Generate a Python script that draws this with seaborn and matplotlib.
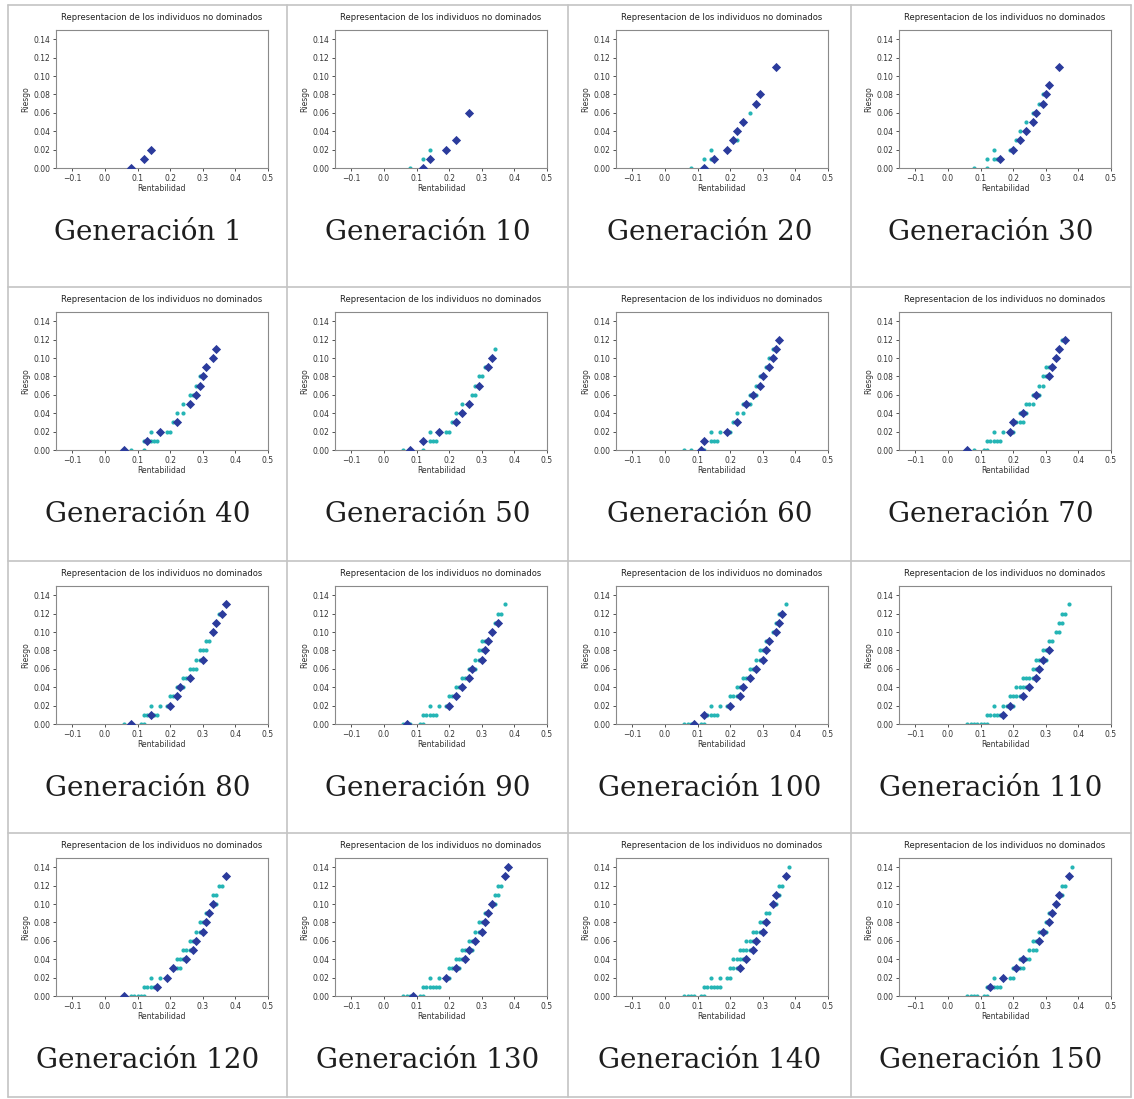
import matplotlib
matplotlib.use("Agg")
import matplotlib.pyplot as plt
import seaborn as sns
from matplotlib.lines import Line2D

# ---------------------------------------------
# Datos: frente no dominado (diamantes) y resto (puntos) por generacion
# pares (rentabilidad, riesgo)
# ---------------------------------------------
generations = [1, 10, 20, 30, 40, 50, 60, 70, 80, 90, 100, 110, 120, 130, 140, 150]

g1_front = [(0.08, 0.00), (0.12, 0.01), (0.14, 0.02)]
g1_rest = []

g10_front = [(0.12, 0.00), (0.14, 0.01), (0.19, 0.02), (0.22, 0.03), (0.26, 0.06)]
g10_rest = [(0.08, 0.00), (0.12, 0.01), (0.14, 0.02)]

g20_front = [(0.12, 0.00), (0.15, 0.01), (0.19, 0.02), (0.21, 0.03), (0.22, 0.04),
             (0.24, 0.05), (0.28, 0.07), (0.29, 0.08), (0.34, 0.11)]
g20_rest = [(0.08, 0.00), (0.12, 0.01), (0.14, 0.01), (0.14, 0.02), (0.22, 0.03), (0.26, 0.06)]

g30_front = [(0.16, 0.01), (0.20, 0.02), (0.22, 0.03), (0.24, 0.04), (0.26, 0.05),
             (0.27, 0.06), (0.29, 0.07), (0.30, 0.08), (0.31, 0.09), (0.34, 0.11)]
g30_rest = [(0.08, 0.00), (0.12, 0.00), (0.12, 0.01), (0.14, 0.01), (0.15, 0.01), (0.14, 0.02),
            (0.19, 0.02), (0.21, 0.03), (0.22, 0.04), (0.24, 0.05), (0.26, 0.06), (0.28, 0.07),
            (0.29, 0.08)]

g40_front = [(0.06, 0.00), (0.13, 0.01), (0.17, 0.02), (0.22, 0.03), (0.26, 0.05), (0.28, 0.06),
             (0.29, 0.07), (0.30, 0.08), (0.31, 0.09), (0.33, 0.10), (0.34, 0.11)]
g40_rest = [(0.08, 0.00), (0.12, 0.00), (0.12, 0.01), (0.14, 0.01), (0.15, 0.01), (0.16, 0.01),
            (0.14, 0.02), (0.19, 0.02), (0.20, 0.02), (0.21, 0.03), (0.22, 0.04), (0.24, 0.04),
            (0.24, 0.05), (0.26, 0.06), (0.27, 0.06), (0.28, 0.07), (0.29, 0.08)]

g50_front = [(0.08, 0.00), (0.12, 0.01), (0.17, 0.02), (0.22, 0.03), (0.24, 0.04), (0.26, 0.05),
             (0.29, 0.07), (0.32, 0.09), (0.33, 0.10)]
g50_rest = [(0.06, 0.00), (0.12, 0.00), (0.14, 0.01), (0.15, 0.01), (0.16, 0.01), (0.14, 0.02),
            (0.19, 0.02), (0.20, 0.02), (0.21, 0.03), (0.22, 0.04), (0.24, 0.05), (0.27, 0.06),
            (0.28, 0.06), (0.28, 0.07), (0.29, 0.08), (0.30, 0.08), (0.31, 0.09), (0.34, 0.11)]

g60_front = [(0.11, 0.00), (0.12, 0.01), (0.19, 0.02), (0.22, 0.03), (0.25, 0.05), (0.27, 0.06),
             (0.29, 0.07), (0.30, 0.08), (0.32, 0.09), (0.33, 0.10), (0.34, 0.11), (0.35, 0.12)]
g60_rest = [(0.06, 0.00), (0.08, 0.00), (0.12, 0.00), (0.14, 0.01), (0.15, 0.01), (0.16, 0.01),
            (0.14, 0.02), (0.17, 0.02), (0.20, 0.02), (0.21, 0.03), (0.22, 0.04), (0.24, 0.04),
            (0.24, 0.05), (0.26, 0.05), (0.26, 0.06), (0.28, 0.06), (0.28, 0.07), (0.29, 0.08),
            (0.31, 0.09), (0.32, 0.10), (0.33, 0.11)]

g70_front = [(0.06, 0.00), (0.19, 0.02), (0.20, 0.03), (0.23, 0.04), (0.27, 0.06), (0.31, 0.08),
             (0.32, 0.09), (0.33, 0.10), (0.34, 0.11), (0.36, 0.12)]
g70_rest = [(0.08, 0.00), (0.11, 0.00), (0.12, 0.00), (0.12, 0.01), (0.13, 0.01), (0.14, 0.01),
            (0.15, 0.01), (0.16, 0.01), (0.14, 0.02), (0.17, 0.02), (0.20, 0.02), (0.21, 0.03),
            (0.22, 0.03), (0.23, 0.03), (0.22, 0.04), (0.24, 0.04), (0.24, 0.05), (0.25, 0.05),
            (0.26, 0.05), (0.26, 0.06), (0.28, 0.06), (0.28, 0.07), (0.29, 0.07), (0.29, 0.08),
            (0.30, 0.08), (0.30, 0.09), (0.31, 0.09), (0.35, 0.12)]

g80_front = [(0.08, 0.00), (0.14, 0.01), (0.20, 0.02), (0.22, 0.03), (0.23, 0.04), (0.26, 0.05),
             (0.30, 0.07), (0.33, 0.10), (0.34, 0.11), (0.36, 0.12), (0.37, 0.13)]
g80_rest = [(0.06, 0.00), (0.11, 0.00), (0.12, 0.00), (0.12, 0.01), (0.13, 0.01), (0.15, 0.01),
            (0.16, 0.01), (0.14, 0.02), (0.17, 0.02), (0.19, 0.02), (0.20, 0.03), (0.21, 0.03),
            (0.22, 0.04), (0.24, 0.04), (0.24, 0.05), (0.25, 0.05), (0.26, 0.06), (0.27, 0.06),
            (0.28, 0.06), (0.28, 0.07), (0.29, 0.07), (0.29, 0.08), (0.30, 0.08), (0.31, 0.08),
            (0.31, 0.09), (0.32, 0.09), (0.35, 0.12)]

g90_front = [(0.07, 0.00), (0.20, 0.02), (0.22, 0.03), (0.24, 0.04), (0.26, 0.05), (0.27, 0.06),
             (0.30, 0.07), (0.31, 0.08), (0.32, 0.09), (0.33, 0.10), (0.35, 0.11)]
g90_rest = [(0.06, 0.00), (0.08, 0.00), (0.11, 0.00), (0.12, 0.00), (0.12, 0.01), (0.13, 0.01),
            (0.14, 0.01), (0.15, 0.01), (0.16, 0.01), (0.14, 0.02), (0.17, 0.02), (0.19, 0.02),
            (0.20, 0.03), (0.21, 0.03), (0.22, 0.04), (0.23, 0.04), (0.24, 0.05), (0.25, 0.05),
            (0.26, 0.06), (0.28, 0.06), (0.28, 0.07), (0.29, 0.07), (0.29, 0.08), (0.30, 0.08),
            (0.30, 0.09), (0.31, 0.09), (0.34, 0.11), (0.35, 0.12), (0.36, 0.12), (0.37, 0.13)]

g100_front = [(0.09, 0.00), (0.12, 0.01), (0.20, 0.02), (0.23, 0.03), (0.24, 0.04), (0.26, 0.05),
              (0.28, 0.06), (0.30, 0.07), (0.31, 0.08), (0.32, 0.09), (0.34, 0.10), (0.35, 0.11),
              (0.36, 0.12)]
g100_rest = [(0.06, 0.00), (0.07, 0.00), (0.08, 0.00), (0.11, 0.00), (0.12, 0.00), (0.13, 0.01),
             (0.14, 0.01), (0.15, 0.01), (0.16, 0.01), (0.14, 0.02), (0.17, 0.02), (0.19, 0.02),
             (0.20, 0.03), (0.21, 0.03), (0.22, 0.03), (0.22, 0.04), (0.23, 0.04), (0.24, 0.05),
             (0.25, 0.05), (0.26, 0.06), (0.27, 0.06), (0.28, 0.07), (0.29, 0.07), (0.29, 0.08),
             (0.30, 0.08), (0.31, 0.09), (0.33, 0.10), (0.34, 0.11), (0.35, 0.12), (0.37, 0.13)]

g110_front = [(0.17, 0.01), (0.19, 0.02), (0.23, 0.03), (0.25, 0.04), (0.27, 0.05), (0.28, 0.06),
              (0.29, 0.07), (0.31, 0.08)]
g110_rest = [(0.06, 0.00), (0.07, 0.00), (0.08, 0.00), (0.09, 0.00), (0.10, 0.00), (0.11, 0.00),
             (0.12, 0.00), (0.12, 0.01), (0.13, 0.01), (0.14, 0.01), (0.15, 0.01), (0.16, 0.01),
             (0.14, 0.02), (0.17, 0.02), (0.18, 0.02), (0.20, 0.02), (0.19, 0.03), (0.20, 0.03),
             (0.21, 0.03), (0.22, 0.03), (0.21, 0.04), (0.22, 0.04), (0.23, 0.04), (0.24, 0.04),
             (0.23, 0.05), (0.24, 0.05), (0.25, 0.05), (0.26, 0.05), (0.26, 0.06), (0.27, 0.06),
             (0.27, 0.07), (0.28, 0.07), (0.30, 0.07), (0.29, 0.08), (0.30, 0.08), (0.31, 0.09),
             (0.32, 0.09), (0.33, 0.10), (0.34, 0.10), (0.34, 0.11), (0.35, 0.11), (0.35, 0.12),
             (0.36, 0.12), (0.37, 0.13)]

g120_front = [(0.06, 0.00), (0.16, 0.01), (0.19, 0.02), (0.21, 0.03), (0.25, 0.04), (0.27, 0.05),
              (0.28, 0.06), (0.30, 0.07), (0.31, 0.08), (0.32, 0.09), (0.33, 0.10), (0.37, 0.13)]
g120_rest = [(0.08, 0.00), (0.09, 0.00), (0.10, 0.00), (0.11, 0.00), (0.12, 0.00), (0.12, 0.01),
             (0.13, 0.01), (0.14, 0.01), (0.15, 0.01), (0.14, 0.02), (0.17, 0.02), (0.22, 0.03),
             (0.23, 0.03), (0.22, 0.04), (0.23, 0.04), (0.24, 0.04), (0.24, 0.05), (0.25, 0.05),
             (0.26, 0.05), (0.26, 0.06), (0.27, 0.06), (0.28, 0.07), (0.29, 0.07), (0.29, 0.08),
             (0.30, 0.08), (0.31, 0.09), (0.34, 0.10), (0.33, 0.11), (0.34, 0.11), (0.35, 0.12),
             (0.36, 0.12)]

g130_front = [(0.09, 0.00), (0.19, 0.02), (0.22, 0.03), (0.25, 0.04), (0.26, 0.05), (0.28, 0.06),
              (0.30, 0.07), (0.31, 0.08), (0.32, 0.09), (0.33, 0.10), (0.37, 0.13), (0.38, 0.14)]
g130_rest = [(0.06, 0.00), (0.07, 0.00), (0.08, 0.00), (0.11, 0.00), (0.12, 0.00), (0.12, 0.01),
             (0.13, 0.01), (0.14, 0.01), (0.15, 0.01), (0.16, 0.01), (0.17, 0.01), (0.14, 0.02),
             (0.17, 0.02), (0.20, 0.02), (0.20, 0.03), (0.21, 0.03), (0.23, 0.03), (0.22, 0.04),
             (0.23, 0.04), (0.24, 0.04), (0.24, 0.05), (0.25, 0.05), (0.27, 0.05), (0.26, 0.06),
             (0.27, 0.06), (0.28, 0.07), (0.29, 0.07), (0.29, 0.08), (0.30, 0.08), (0.31, 0.09),
             (0.34, 0.10), (0.34, 0.11), (0.35, 0.11), (0.35, 0.12), (0.36, 0.12)]

g140_front = [(0.23, 0.03), (0.25, 0.04), (0.27, 0.05), (0.28, 0.06), (0.30, 0.07), (0.31, 0.08),
              (0.33, 0.10), (0.34, 0.11), (0.37, 0.13)]
g140_rest = [(0.06, 0.00), (0.07, 0.00), (0.08, 0.00), (0.09, 0.00), (0.11, 0.00), (0.12, 0.00),
             (0.12, 0.01), (0.13, 0.01), (0.14, 0.01), (0.15, 0.01), (0.16, 0.01), (0.17, 0.01),
             (0.14, 0.02), (0.17, 0.02), (0.19, 0.02), (0.20, 0.02), (0.20, 0.03), (0.21, 0.03),
             (0.22, 0.03), (0.21, 0.04), (0.22, 0.04), (0.23, 0.04), (0.24, 0.04), (0.23, 0.05),
             (0.24, 0.05), (0.25, 0.05), (0.26, 0.05), (0.25, 0.06), (0.26, 0.06), (0.27, 0.06),
             (0.27, 0.07), (0.28, 0.07), (0.29, 0.07), (0.29, 0.08), (0.30, 0.08), (0.31, 0.08),
             (0.31, 0.09), (0.32, 0.09), (0.34, 0.10), (0.35, 0.11), (0.35, 0.12), (0.36, 0.12),
             (0.38, 0.14)]

g150_front = [(0.13, 0.01), (0.17, 0.02), (0.21, 0.03), (0.23, 0.04), (0.28, 0.06), (0.29, 0.07),
              (0.31, 0.08), (0.32, 0.09), (0.33, 0.10), (0.34, 0.11), (0.37, 0.13)]
g150_rest = [(0.06, 0.00), (0.07, 0.00), (0.08, 0.00), (0.09, 0.00), (0.11, 0.00), (0.12, 0.00),
             (0.12, 0.01), (0.14, 0.01), (0.15, 0.01), (0.16, 0.01), (0.14, 0.02), (0.19, 0.02),
             (0.20, 0.02), (0.20, 0.03), (0.22, 0.03), (0.23, 0.03), (0.22, 0.04), (0.24, 0.04),
             (0.25, 0.04), (0.25, 0.05), (0.26, 0.05), (0.27, 0.05), (0.26, 0.06), (0.27, 0.06),
             (0.28, 0.07), (0.30, 0.07), (0.30, 0.08), (0.31, 0.09), (0.33, 0.10), (0.35, 0.11),
             (0.35, 0.12), (0.36, 0.12), (0.38, 0.14)]

panels = [
    (g1_front, g1_rest), (g10_front, g10_rest), (g20_front, g20_rest), (g30_front, g30_rest),
    (g40_front, g40_rest), (g50_front, g50_rest), (g60_front, g60_rest), (g70_front, g70_rest),
    (g80_front, g80_rest), (g90_front, g90_rest), (g100_front, g100_rest), (g110_front, g110_rest),
    (g120_front, g120_rest), (g130_front, g130_rest), (g140_front, g140_rest), (g150_front, g150_rest),
]

x_ticks = [-0.1, 0.0, 0.1, 0.2, 0.3, 0.4, 0.5]
y_ticks = [0.00, 0.02, 0.04, 0.06, 0.08, 0.10, 0.12, 0.14]

# ---------------------------------------------
# Layout (pixel coords of the table cells)
# ---------------------------------------------
W, H = 1134, 1099
col_edges = [8, 287, 568, 851, 1131]
row_edges = [5, 287, 561, 833, 1097]

FRONT_COLOR = "#2b3b9c"
REST_COLOR = "#25b5b5"
GRID_COLOR = "#c4c4c4"

sns.set_style("ticks")
plt.rcParams["font.family"] = ["DejaVu Sans"]

fig = plt.figure(figsize=(W / 100, H / 100), dpi=100)


def fx(px):
    return px / W


def fy(py):
    return 1 - py / H


for i, (g, (front, rest)) in enumerate(zip(generations, panels)):
    r, c = divmod(i, 4)
    x0, y0 = col_edges[c], row_edges[r]

    ax = fig.add_axes([fx(x0 + 48), fy(y0 + 25 + 138), 212 / W, 138 / H])

    if rest:
        sns.scatterplot(x=[p[0] for p in rest], y=[p[1] for p in rest], ax=ax,
                        color=REST_COLOR, marker="o", s=9, linewidth=0, zorder=2)
    sns.scatterplot(x=[p[0] for p in front], y=[p[1] for p in front], ax=ax,
                    color=FRONT_COLOR, marker="D", s=22, linewidth=0, zorder=3)

    ax.set_xlim(-0.15, 0.5)
    ax.set_ylim(0, 0.15)
    ax.set_xticks(x_ticks)
    ax.set_yticks(y_ticks)
    ax.tick_params(labelsize=5.5, length=2.5, width=0.6, pad=1.5, colors="#333333")
    for sp in ax.spines.values():
        sp.set_color("#8a8a8a")
        sp.set_linewidth(0.8)
    ax.set_xlabel("Rentabilidad", fontsize=5.5, labelpad=1, color="#333333")
    ax.set_ylabel("Riesgo", fontsize=5.5, labelpad=2, color="#333333")
    ax.set_title("Representacion de los individuos no dominados", fontsize=6, pad=7,
                 color="#222222")

    fig.text(fx((col_edges[c] + col_edges[c + 1]) / 2), fy(y0 + 228), f"Generación {g}",
             ha="center", va="center", fontsize=20, family="DejaVu Serif", color="#1e1e1e")

# table lines
for xe in col_edges:
    fig.add_artist(Line2D([fx(xe), fx(xe)], [fy(row_edges[0]), fy(row_edges[-1])],
                          color=GRID_COLOR, linewidth=1.2))
for ye in row_edges:
    fig.add_artist(Line2D([fx(col_edges[0]), fx(col_edges[-1])], [fy(ye), fy(ye)],
                          color=GRID_COLOR, linewidth=1.2))

fig.savefig("out.png", dpi=100, facecolor="white")
